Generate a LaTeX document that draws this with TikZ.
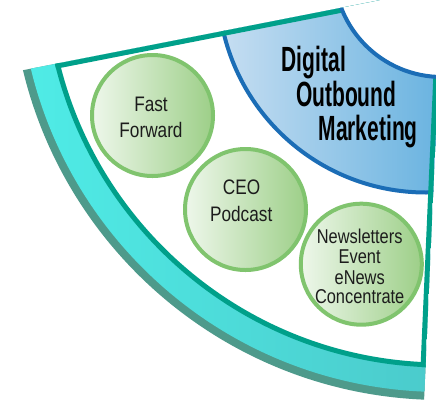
\documentclass[tikz,border=0pt]{standalone}
\usepackage{fontspec}
\setmainfont{Liberation Sans}
\newfontfamily\circfont{Liberation Sans}[FakeStretch=0.82]
\newfontfamily\titlefont{Liberation Sans}[FakeStretch=0.6]
\definecolor{ringgray}{HTML}{4E9A8B}
\definecolor{cyanA}{HTML}{4FEEE8}
\definecolor{cyanB}{HTML}{4BCACB}
\definecolor{tealline}{HTML}{00A08A}
\definecolor{blueline}{HTML}{1B6DB6}
\definecolor{blueA}{HTML}{C9DFF2}
\definecolor{blueB}{HTML}{69B3E0}
\definecolor{greenline}{HTML}{80C46E}
\definecolor{greenA}{HTML}{EEF7EB}
\definecolor{greenB}{HTML}{9DCF88}
\definecolor{txt}{HTML}{1C1C1C}
\tikzset{
  bubble/.style={circle, draw=greenline, line width=4pt, inner sep=0pt,
    minimum size=121pt, left color=greenA, right color=greenB},
  ctext/.style={anchor=base, inner sep=0pt, text=txt,
    font=\circfont\fontsize{21}{25}\selectfont},
  ntext/.style={anchor=base, inner sep=0pt, text=txt,
    font=\circfont\fontsize{20}{24}\selectfont},
  ttext/.style={anchor=base, inner sep=0pt, text=black,
    font=\titlefont\bfseries\fontsize{35}{40}\selectfont},
  tealborder/.style={draw=tealline, line width=5pt},
  blueborder/.style={draw=blueline, line width=4pt}
}
\begin{document}
\begin{tikzpicture}[x=1pt,y=-1pt]
\useasboundingbox (0,0) rectangle (436,405);
\coordinate (O) at (442,-31);
\coordinate (B) at (426,-15.5);
\coordinate (tl) at (0,77.2);
\coordinate (corner) at (439.6,-9);
\coordinate (br) at (420.7,420);
\begin{scope}
  \clip (0,74.7) -- (442.2,-12) -- (423.2,420) -- (0,420) -- cycle;
  % outer ring
  \fill[ringgray] (O) circle[radius=431pt];
  \begin{scope}
    \clip (O) circle[radius=423pt];
    \shade[left color=cyanA, middle color=cyanA, right color=cyanB] (0,-20) rectangle (440,420);
  \end{scope}
  \fill[white] (O) circle[radius=396pt];
  % blue region
  \begin{scope}
    \clip (B) circle[radius=208pt];
    \shade[left color=blueA, right color=blueB] (215,-20) rectangle (440,200);
  \end{scope}
  \path[blueborder] (B) circle[radius=208pt];
  % teal border of the white sector
  \path[tealborder] (O) circle[radius=396pt];
  \begin{scope}
    \clip (O) circle[radius=398.5pt];
    \path[tealborder] (tl) -- (corner) -- (br);
  \end{scope}
  % inner hole
  \fill[white] (O) circle[radius=108pt];
  \path[blueborder] (O) circle[radius=108pt];
\end{scope}
% bubbles
\node[bubble] (ff) at (152.5,115.5) {};
\node[bubble] (ceo) at (245.5,209.5) {};
\node[bubble] (nl) at (361.3,264.2) {};
% texts
\node[ctext] (ff1) at (151,111.7) {Fast};
\node[ctext] (ff2) at (151,137.3) {Forward};
\node[ctext] (ceo1) at (241.5,194) {CEO};
\node[ctext] (ceo2) at (241.2,221.7) {Podcast};
\node[ntext] (nl1) at (359.7,243.3) {Newsletters};
\node[ntext] (nl2) at (359.7,263.3) {Event};
\node[ntext] (nl3) at (359.7,284) {eNews};
\node[ntext] (nl4) at (359.7,303) {Concentrate};
\node[ttext] (dg1) at (313.8,71.7) {Digital};
\node[ttext] (dg2) at (346.3,106.7) {Outbound};
\node[ttext] (dg3) at (368.2,140) {Marketing};
\end{tikzpicture}
\end{document}
